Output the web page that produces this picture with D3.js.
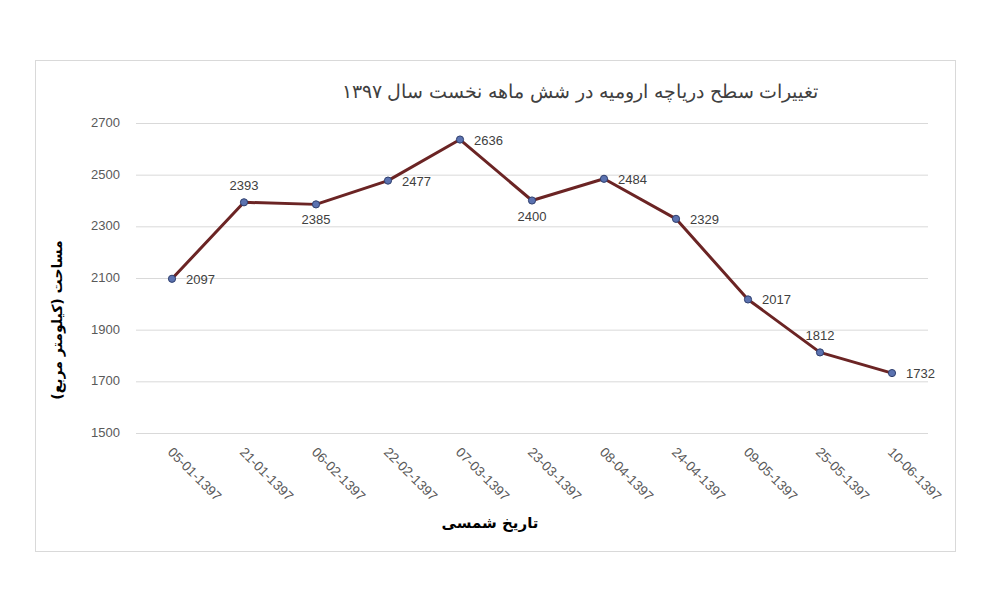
<!DOCTYPE html>
<html><head><meta charset="utf-8">
<script src="https://cdn.jsdelivr.net/npm/d3@7"></script>
<style>body{margin:0;background:#fff}</style></head>
<body><svg id="c" width="987" height="600"></svg>
<script>
const categories=["05-01-1397","21-01-1397","06-02-1397","22-02-1397","07-03-1397","23-03-1397","08-04-1397","24-04-1397","09-05-1397","25-05-1397","10-06-1397"];
const values=[2097,2393,2385,2477,2636,2400,2484,2329,2017,1812,1732];
const labelSide=["right","above","below","right","right","below","right","right","right","above","right"];
const yTicks=[1500,1700,1900,2100,2300,2500,2700];
const title="تغییرات سطح دریاچه ارومیه در شش ماهه نخست سال ۱۳۹۷";
const yTitle="مساحت (کیلومتر مربع)";
const xTitle="تاریخ شمسی";

const svg=d3.select("#c");
svg.append("rect").attr("x",35.5).attr("y",60.5).attr("width",920).attr("height",491).attr("fill","#fff").attr("stroke","#d9d9d9");
const x=d3.scaleBand().domain(categories).range([136,928]);
const y=d3.scaleLinear().domain([1500,2700]).range([433,123]);
const cx=d=>x(d)+x.bandwidth()/2;
svg.append("g").selectAll("line").data(yTicks).join("line")
 .attr("x1",136).attr("x2",928).attr("y1",d=>y(d)+.5).attr("y2",d=>y(d)+.5).attr("stroke","#d9d9d9");
svg.append("g").selectAll("text").data(yTicks).join("text")
 .attr("x",120).attr("y",d=>y(d)+4).attr("text-anchor","end").attr("font-family","Liberation Sans, Arial").attr("font-size",13).attr("fill","#595959").text(d=>d);
svg.append("g").selectAll("text").data(categories).join("text")
 .attr("transform",d=>`translate(${cx(d)-5},${453}) rotate(45)`).attr("font-family","Liberation Sans, Arial").attr("font-size",13.5).attr("fill","#595959").text(d=>d);
const line=d3.line().x((d,i)=>cx(categories[i])).y(d=>y(d));
svg.append("path").datum(values).attr("d",line).attr("fill","none").attr("stroke","#6b2424").attr("stroke-width",3).attr("stroke-linejoin","round");
svg.append("g").selectAll("circle").data(values).join("circle")
 .attr("cx",(d,i)=>cx(categories[i])).attr("cy",d=>y(d)).attr("r",3.6).attr("fill","#5b72b0").attr("stroke","#2f3f6e").attr("stroke-width",1);
svg.append("g").selectAll("text").data(values).join("text")
 .attr("x",(d,i)=>cx(categories[i])+(labelSide[i]==="right"?14:0))
 .attr("y",(d,i)=>y(d)+(labelSide[i]==="above"?-12:labelSide[i]==="below"?20:5))
 .attr("text-anchor",(d,i)=>labelSide[i]==="right"?"start":"middle")
 .attr("font-family","Liberation Sans, Arial").attr("font-size",13).attr("fill","#404040").text(d=>d);
svg.append("text").attr("x",580).attr("y",98).attr("text-anchor","middle").attr("direction","rtl")
 .attr("font-family","DejaVu Serif, Noto Sans").attr("font-size",18.5).attr("fill","#404040").text(title);
svg.append("text").attr("x",490).attr("y",528).attr("text-anchor","middle").attr("direction","rtl")
 .attr("font-family","DejaVu Sans, Noto Sans").attr("font-weight","bold").attr("font-size",15).attr("fill","#000").text(xTitle);
svg.append("text").attr("transform","translate(62,320) rotate(-90)").attr("text-anchor","middle").attr("direction","rtl")
 .attr("font-family","DejaVu Sans, Noto Sans").attr("font-weight","bold").attr("font-size",14).attr("fill","#000").text(yTitle);
</script></body></html>
